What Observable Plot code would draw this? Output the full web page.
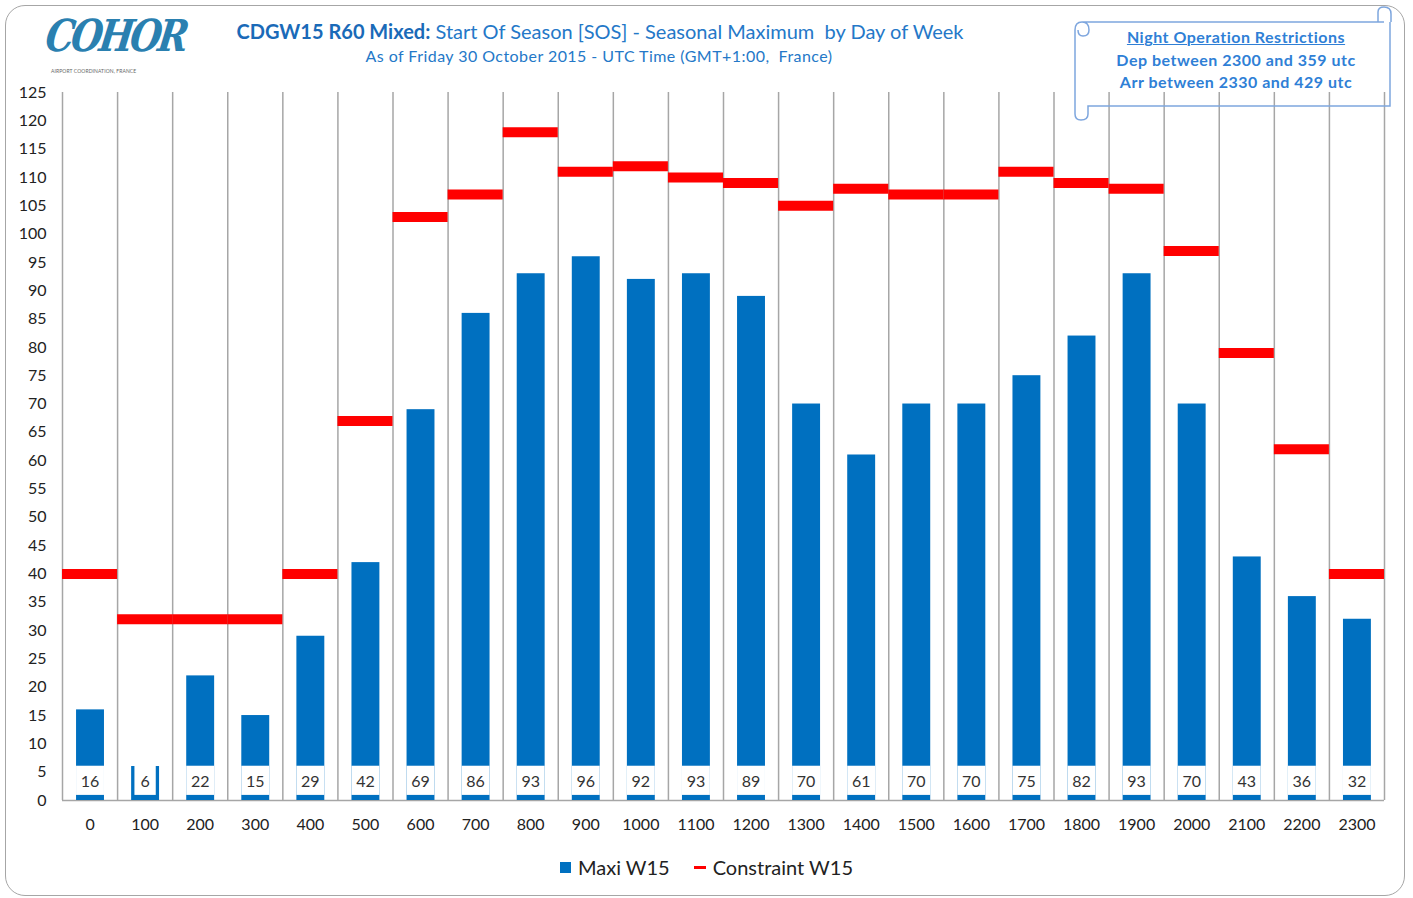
<!DOCTYPE html>
<html>
<head>
<meta charset="utf-8">
<script src="https://cdn.jsdelivr.net/npm/d3@7"></script>
<script src="https://cdn.jsdelivr.net/npm/@observablehq/plot@0.6"></script>
<style>
  html, body { margin: 0; padding: 0; background: #fff; }
  #wrap { position: relative; width: 1413px; height: 898px; overflow: hidden; font-family: Lato, "Open Sans", sans-serif; }
  #frame { position: absolute; left: 5px; top: 5px; width: 1400px; height: 891px; border: 1.5px solid #a6a6a6; border-radius: 20px; box-sizing: border-box; }
  #chart { position: absolute; left: 0; top: 0; }
  .logo { position: absolute; left: 50px; top: 10px; font-family: "DejaVu Serif", serif; font-style: italic; font-weight: bold; font-size: 44px; color: #2a80b0; letter-spacing: -4px; transform-origin: left top; transform: scaleX(0.82) skewX(-10deg); }
  .logosub { position: absolute; left: 51px; top: 68px; font-size: 5px; color: #666; letter-spacing: 0.1px; }
  .title { position: absolute; left: 0; width: 1200px; top: 19px; text-align: center; font-size: 20px; color: #2478c8; white-space: pre; }
  .title b { color: #1a6ab8; }
  .subtitle { position: absolute; left: 0; width: 1198px; top: 46px; text-align: center; font-size: 16px; letter-spacing: 0.45px; color: #2478c8; white-space: pre; }
  .night { position: absolute; left: 1082px; width: 308px; top: 26px; text-align: center; font-size: 16px; letter-spacing: 0.5px; font-weight: bold; color: #2f7fd6; line-height: 22.5px; }
  .night u { text-decoration-thickness: 1px; }
  #legend { position: absolute; top: 855px; left: 0; width: 1413px; display: flex; justify-content: center; font-size: 20px; color: #222; }
  #legend span.item { display: inline-flex; align-items: center; margin: 0 12px; }
  .sw { display: inline-block; width: 11px; height: 11px; background: #0070c0; margin-right: 7px; }
  .ln { display: inline-block; width: 12px; height: 3px; background: #ff0000; margin-right: 7px; }
</style>
</head>
<body>
<div id="wrap">
  <div id="chart"></div>
  <div id="frame"></div>
  <div class="logo">COHOR</div>
  <div class="logosub">AIRPORT COORDINATION, FRANCE</div>
  <div class="title"><b>CDGW15 R60 Mixed:</b> Start Of Season [SOS] - Seasonal Maximum  by Day of Week</div>
  <div class="subtitle">As of Friday 30 October 2015 - UTC Time (GMT+1:00,  France)</div>
  <svg style="position:absolute;left:0;top:0" width="1413" height="130">
    <path d="M1082,22 L1384,22 M1082,22 Q1075,22 1075,30 L1075,114 Q1075,120 1081,120 Q1088,120 1088,114 L1088,106 L1390,106 L1390,22 M1378,22 L1378,12 Q1378,7 1384,7 Q1391,7 1391,14 L1391,22 M1082,22 Q1089,22 1089,30 Q1089,36 1083,36 Q1078,36 1078,30" fill="none" stroke="#7ea6de" stroke-width="1.5"/>
  </svg>
  <div class="night"><u>Night Operation Restrictions</u><br>Dep between 2300 and  359 utc<br>Arr between 2330 and  429 utc</div>
  <div id="legend">
    <span class="item"><span class="sw"></span>Maxi W15</span>
    <span class="item"><span class="ln"></span>Constraint W15</span>
  </div>
</div>
<script>
const hours = [0,100,200,300,400,500,600,700,800,900,1000,1100,1200,1300,1400,1500,1600,1700,1800,1900,2000,2100,2200,2300];
const maxiW15 = [16,6,22,15,29,42,69,86,93,96,92,93,89,70,61,70,70,75,82,93,70,43,36,32];
const constraintW15 = [40,32,32,32,40,67,103,107,118,111,112,110,109,105,108,107,107,111,109,108,97,79,62,40];
const yTicks = d3.range(0, 126, 5);

const rows = hours.map((h, i) => ({
  hour: h, i, maxi: maxiW15[i], constraint: constraintW15[i],
  label: String(maxiW15[i])
}));

const chart = Plot.plot({
  width: 1413,
  height: 898,
  marginTop: 92,
  marginBottom: 98,
  marginLeft: 62,
  marginRight: 29,
  style: { fontFamily: "Lato, 'Open Sans', sans-serif", fontSize: "16px", color: "#333", background: "transparent" },
  x: { type: "linear", domain: [0, hours.length], axis: null },
  y: { domain: [0, 125], axis: null },
  marks: [
    Plot.ruleX(d3.range(hours.length + 1), { y1: 0, y2: 125, stroke: "#a6a6a6", strokeWidth: 1.5 }),
    Plot.ruleY([0], { stroke: "#a6a6a6", strokeWidth: 1.5 }),
    Plot.rectY(rows, { x1: d => d.i + 0.255, x2: d => d.i + 0.762, y1: 0, y2: "maxi", fill: "#0070c0" }),
    Plot.rectY(rows, {
      x1: d => d.i + 0.255 + (d.label.length < 2 ? 0.06 : 0),
      x2: d => d.i + 0.762 - (d.label.length < 2 ? 0.06 : 0),
      y1: 0.9, y2: 6.05, fill: "white"
    }),
    Plot.text(rows, { x: d => d.i + 0.5, y: 3.3, text: "label", fill: "#333", fontSize: 16 }),
    Plot.ruleY(rows, { y: "constraint", x1: d => d.i, x2: d => d.i + 1, stroke: "#ff0000", strokeWidth: 10 }),
    Plot.axisY(yTicks, { tickSize: 0, tickPadding: 16, fontSize: 16, fill: "#222" }),
    Plot.axisX(hours.map((h, i) => i + 0.5), { tickFormat: d => String(hours[d - 0.5]), tickSize: 0, tickPadding: 18, fontSize: 16, fill: "#222" })
  ]
});
document.getElementById("chart").appendChild(chart);
</script>
</body>
</html>
